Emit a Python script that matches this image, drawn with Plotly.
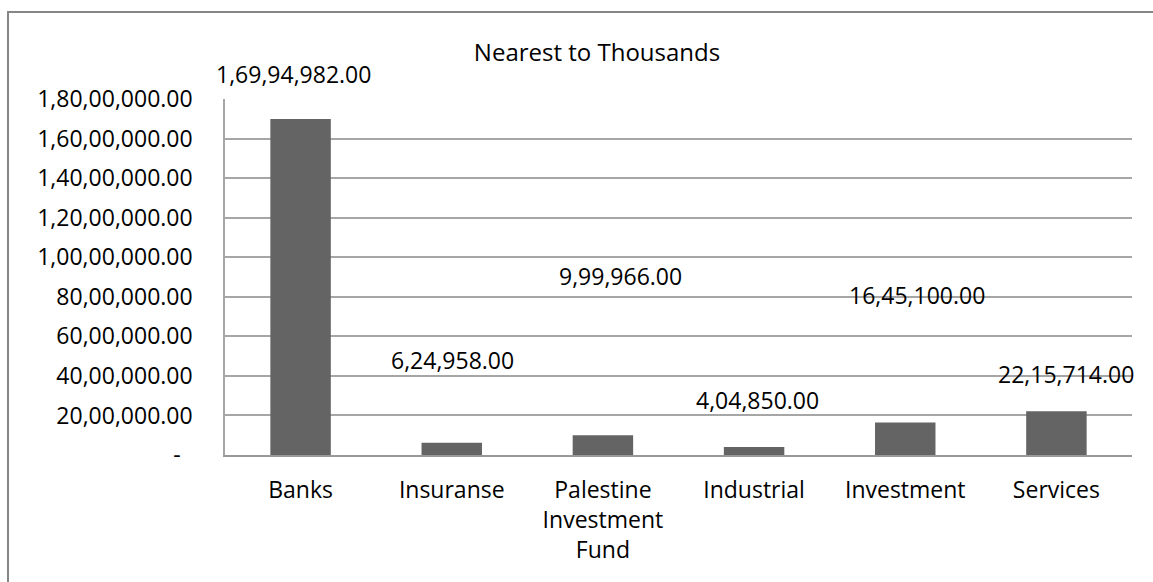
import plotly.graph_objects as go

categories = ["Banks", "Insuranse", "Palestine<br>Investment<br>Fund", "Industrial", "Investment", "Services"]
values = [16994982, 624958, 999966, 404850, 1645100, 2215714]
label_texts = ["1,69,94,982.00", "6,24,958.00", "9,99,966.00", "4,04,850.00", "16,45,100.00", "22,15,714.00"]
# label placement (data y level, x shift px, y shift px) as in the original chart
label_levels = [18000000, 4800000, 9070000, 2780000, 8090000, 4100000]
label_xshift = [-7, 1, 18, 3, 12, 10]
label_yshift = [25, 0, 0, 0, 0, 0]

tick_vals = [0, 2000000, 4000000, 6000000, 8000000, 10000000, 12000000, 14000000, 16000000, 18000000]
tick_text = ["-\u00a0\u00a0", "20,00,000.00", "40,00,000.00", "60,00,000.00", "80,00,000.00",
             "1,00,00,000.00", "1,20,00,000.00", "1,40,00,000.00", "1,60,00,000.00", "1,80,00,000.00"]

FONT = "Open Sans"
FS = 23
W, H = 1153, 582
L, R, T, B = 225, 21, 99, 127

fig = go.Figure()
fig.add_trace(go.Bar(x=categories, y=values, marker=dict(color="#646464", line=dict(width=0)),
                     hoverinfo="skip"))

for c, t, lv, xs, ys in zip(categories, label_texts, label_levels, label_xshift, label_yshift):
    fig.add_annotation(x=c, y=lv, xref="x", yref="y", text=t, showarrow=False,
                       xanchor="center", yanchor="middle", xshift=xs, yshift=ys,
                       font=dict(family=FONT, size=FS, color="#000000"))

plot_w = W - L - R
plot_h = H - T - B
fig.add_shape(type="rect", xref="paper", yref="paper",
              x0=(8 - L) / plot_w, x1=1.2, y0=-0.6, y1=(H - B - 12) / plot_h,
              line=dict(color="#868686", width=2), fillcolor="rgba(0,0,0,0)", layer="below")

fig.update_layout(
    width=W, height=H,
    margin=dict(l=L, r=R, t=T, b=B, autoexpand=False),
    paper_bgcolor="white", plot_bgcolor="white",
    bargap=0.6,
    showlegend=False,
    font=dict(family=FONT, size=FS, color="#000000"),
    title=dict(text="Nearest to Thousands", x=597 / W, xref="container", xanchor="center",
               y=1 - 53 / H, yref="container", yanchor="middle",
               font=dict(family=FONT, size=24, color="#000000")),
)
fig.update_xaxes(range=[-0.5, 5.5], showgrid=False, showline=True, linecolor="#999999", linewidth=1.5,
                 ticks="", ticklabelstandoff=14, tickfont=dict(family=FONT, size=FS, color="#000000"))
fig.update_yaxes(range=[0, 18000000], tickvals=tick_vals, ticktext=tick_text,
                 showgrid=True, gridcolor="#a6a6a6", gridwidth=1.5,
                 showline=True, linecolor="#a6a6a6", linewidth=1.5, zeroline=False,
                 ticks="", ticklabelstandoff=26, tickfont=dict(family=FONT, size=FS, color="#000000"))

fig.write_html("out.html")
